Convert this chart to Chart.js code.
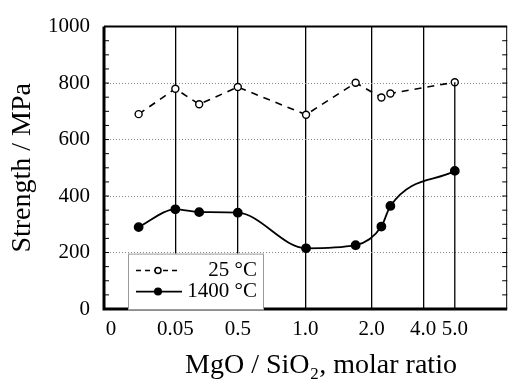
<!DOCTYPE html>
<html>
<head>
<meta charset="utf-8">
<script src="https://cdn.jsdelivr.net/npm/chart.js@4/dist/chart.umd.min.js"></script>
<style>
  html, body { margin: 0; padding: 0; background: #fff; }
  #wrap { width: 513px; height: 387px; position: relative; }
</style>
</head>
<body>
<div id="wrap"><canvas id="chart" width="513" height="387"></canvas></div>
<script>
// x axis is not linear in the ratio, so ticks sit at hand-read axis positions
const xTickPos = [0, 1, 1.97, 3.02, 4.05, 4.85, 5.34];
const xTickLabels = ['0', '0.05', '0.5', '1.0', '2.0', '4.0', '5.0'];
const xPos = [0.43, 1.0, 1.37, 1.97, 3.03, 3.8, 4.2, 4.34, 5.34];
const strength25 = [690, 780, 725, 786, 688, 801, 749, 763, 803];
const strength1400 = [290, 353, 343, 341, 215, 226, 292, 365, 489];
const yTicks = [0, 200, 400, 600, 800, 1000];

const serif = '"Liberation Serif", "Times New Roman", serif';
const xTitle = 'MgO / SiO₂, molar ratio';

const toPoints = (xs, ys) => xs.map((x, i) => ({ x: x, y: ys[i] }));

const framePlugin = {
    id: 'frame',
    afterDraw(chart) {
        const { ctx, chartArea: a, scales } = chart;
        ctx.save();
        ctx.strokeStyle = '#000';
        // partial line at 5.0 (only up to the 25 °C point)
        const x5 = scales.x.getPixelForValue(xTickPos[6]);
        ctx.lineWidth = 1.3;
        ctx.beginPath();
        ctx.moveTo(x5, a.bottom);
        ctx.lineTo(x5, scales.y.getPixelForValue(strength25[8]));
        ctx.stroke();
        // minor ticks every 50
        ctx.lineWidth = 1;
        for (let v = 50; v < 1000; v += 50) {
            const y = scales.y.getPixelForValue(v);
            ctx.beginPath();
            ctx.moveTo(a.left, y); ctx.lineTo(a.left + 5, y);
            ctx.moveTo(a.right, y); ctx.lineTo(a.right - 5, y);
            ctx.stroke();
        }
        // frame
        ctx.lineWidth = 3;
        ctx.beginPath();
        ctx.moveTo(a.left, a.top); ctx.lineTo(a.left, a.bottom); ctx.lineTo(a.right, a.bottom);
        ctx.stroke();
        ctx.lineWidth = 2;
        ctx.beginPath();
        ctx.moveTo(a.left, a.top); ctx.lineTo(a.right, a.top);
        ctx.stroke();
        ctx.lineWidth = 1;
        ctx.beginPath();
        ctx.moveTo(a.right - 0.5, a.top); ctx.lineTo(a.right - 0.5, a.bottom);
        ctx.stroke();

        // x title, a little right of the axis centre as in the original
        ctx.fillStyle = '#000';
        ctx.font = '28px ' + serif;
        ctx.textAlign = 'center';
        ctx.textBaseline = 'middle';
        ctx.fillText(xTitle, 321, 366);

        // legend box
        const bx = a.left + 24, by = a.top + 227, bw = 135, bh = 56;
        ctx.fillStyle = '#fff';
        ctx.fillRect(bx, by, bw, bh);
        ctx.strokeStyle = '#999';
        ctx.lineWidth = 1;
        ctx.strokeRect(bx + 0.5, by + 0.5, bw, bh);
        ctx.strokeStyle = '#000';
        const y1 = by + 17, y2 = by + 38;
        ctx.lineWidth = 1.5;
        ctx.setLineDash([5, 4]);
        ctx.beginPath(); ctx.moveTo(bx + 8, y1); ctx.lineTo(bx + 52, y1); ctx.stroke();
        ctx.setLineDash([]);
        ctx.fillStyle = '#fff';
        ctx.beginPath(); ctx.arc(bx + 30, y1, 3, 0, Math.PI * 2); ctx.fill(); ctx.stroke();
        ctx.lineWidth = 1.8;
        ctx.beginPath(); ctx.moveTo(bx + 8, y2); ctx.lineTo(bx + 54, y2); ctx.stroke();
        ctx.fillStyle = '#000';
        ctx.beginPath(); ctx.arc(bx + 30, y2, 4, 0, Math.PI * 2); ctx.fill();
        ctx.font = '21px ' + serif;
        ctx.textAlign = 'right';
        ctx.fillText('25 °C', bx + bw - 6, y1);
        ctx.fillText('1400 °C', bx + bw - 6, y2);
        ctx.restore();
    }
};

new Chart(document.getElementById('chart'), {
    type: 'scatter',
    data: {
        datasets: [
            {
                label: '25 °C',
                data: toPoints(xPos, strength25),
                showLine: true,
                borderColor: '#000',
                borderWidth: 1.6,
                borderDash: [7, 6],
                pointStyle: 'circle',
                pointRadius: 3.5,
                pointBorderWidth: 1.4,
                pointBackgroundColor: '#fff',
                pointBorderColor: '#000'
            },
            {
                label: '1400 °C',
                data: toPoints(xPos, strength1400),
                showLine: true,
                cubicInterpolationMode: 'monotone',
                borderColor: '#000',
                borderWidth: 1.8,
                pointRadius: 4,
                pointBackgroundColor: '#000',
                pointBorderColor: '#000'
            }
        ]
    },
    options: {
        responsive: false,
        animation: false,
        devicePixelRatio: 1,
        layout: { padding: { top: 22, right: 2, left: 0, bottom: 0 } },
        plugins: { legend: { display: false }, tooltip: { enabled: false } },
        scales: {
            x: {
                type: 'linear',
                min: -0.108,
                max: 6.154,
                afterBuildTicks: (s) => { s.ticks = xTickPos.map(v => ({ value: v })); },
                afterFit: (s) => { s.height = 78; },
                ticks: {
                    autoSkip: false,
                    maxRotation: 0,
                    padding: 8,
                    color: '#000',
                    font: { family: serif, size: 21 },
                    callback: (v, i) => xTickLabels[i]
                },
                grid: {
                    drawTicks: false,
                    color: (c) => (c.index === 0 || c.index === 6) ? 'rgba(0,0,0,0)' : '#000',
                    lineWidth: 1.3
                },
                border: { display: false }
            },
            y: {
                min: 0,
                max: 1000,
                afterBuildTicks: (s) => { s.ticks = yTicks.map(v => ({ value: v })); },
                afterFit: (s) => { s.width = 104; },
                ticks: {
                    padding: 14,
                    color: '#000',
                    font: { family: serif, size: 21 },
                    callback: (v) => String(v)
                },
                grid: {
                    drawTicks: false,
                    color: (c) => (c.tick.value > 0 && c.tick.value < 1000) ? '#888' : 'rgba(0,0,0,0)',
                    lineWidth: 1
                },
                border: { display: false, dash: [1, 2] },
                title: {
                    display: true,
                    text: 'Strength / MPa',
                    color: '#000',
                    font: { family: serif, size: 28 },
                    padding: { top: 6, bottom: 0 }
                }
            }
        }
    },
    plugins: [framePlugin]
});
</script>
</body>
</html>
